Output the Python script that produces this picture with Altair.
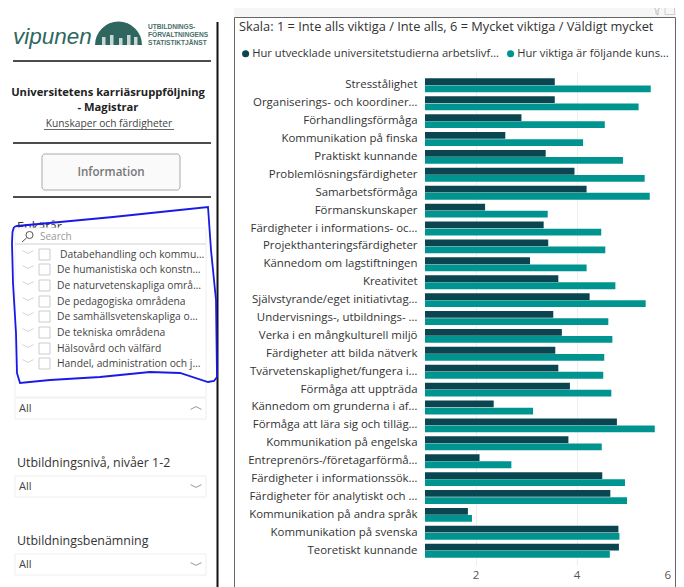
import altair as alt
import pandas as pd

categories = ["Stresstålighet", "Organiserings- och koordiner…", "Förhandlingsförmåga",
    "Kommunikation på finska", "Praktiskt kunnande", "Problemlösningsfärdigheter",
    "Samarbetsförmåga", "Förmanskunskaper", "Färdigheter i informations- oc…",
    "Projekthanteringsfärdigheter", "Kännedom om lagstiftningen", "Kreativitet",
    "Självstyrande/eget initiativtag…", "Undervisnings-, utbildnings- …",
    "Verka i en mångkulturell miljö", "Färdigheter att bilda nätverk",
    "Tvärvetenskaplighet/fungera i…", "Förmåga att uppträda", "Kännedom om grunderna i af…",
    "Förmåga att lära sig och tilläg…", "Kommunikation på engelska",
    "Entreprenörs-/företagarförmå…", "Färdigheter i informationssök…",
    "Färdigheter för analytiskt och …", "Kommunikation på andra språk",
    "Kommunikation på svenska", "Teoretiskt kunnande"]
developed = [3.57, 3.57, 2.91, 2.59, 3.39, 3.96, 4.20, 2.19, 3.35, 3.44, 3.08, 3.64, 4.26, 3.54,
             3.71, 3.58, 3.64, 3.87, 2.36, 4.80, 3.84, 2.08, 4.51, 4.67, 1.85, 4.83, 4.84]
important = [5.47, 5.23, 4.56, 4.13, 4.92, 5.35, 5.45, 3.43, 4.49, 4.57, 4.20, 4.77, 5.37, 4.63,
             4.71, 4.55, 4.53, 4.69, 3.14, 5.55, 4.50, 2.71, 4.96, 5.00, 1.93, 4.85, 4.66]
series = ["Hur utvecklade universitetstudierna arbetslivf…", "Hur viktiga är följande kuns…"]
colors = ["#0B4650", "#009490"]
x_ticks = [2, 4, 6]

slicer_items = ["Databehandling och kommu…", "De humanistiska och konstn…", "De naturvetenskapliga områ…",
                "De pedagogiska områdena", "De samhällsvetenskapliga o…", "De tekniska områdena",
                "Hälsovård och välfärd", "Handel, administration och j…"]
slicer_rows = [255, 270, 286, 302, 317, 333, 349, 364]
slicer_text_x = [60, 57, 57, 57, 57, 57, 57, 57]
scribble_x = [14, 17, 60, 113, 170, 208, 211, 216, 217, 214, 208, 180, 150, 100, 50, 20, 17, 16, 13, 12, 12.5, 14]
scribble_y = [227, 226, 222, 217, 211, 207, 250, 300, 377, 381, 382, 373, 372, 377, 380, 383, 373, 333, 283, 243, 232, 227]

FONT = "Open Sans"
LEFT, TOP = 417, 63
W, H = 251, 494
X_SPAN = 252.5


def X(p):
    return p - 8 - LEFT


def Y(p):
    return p - 8 - TOP


one = pd.DataFrame({"a": [0]})


def txt(x, y, s, size=11.5, color="#444444", align="left", font=FONT, **kw):
    return alt.Chart(one).mark_text(fontSize=size, color=color, align=align, baseline="middle",
                                    font=font, **kw).encode(
        x=alt.value(X(x)), y=alt.value(Y(y)), text=alt.value(s))


def rect(x0, y0, x1, y1, fill="#ffffff", stroke=None, **kw):
    opts = dict(fill=fill, **kw)
    if stroke:
        opts["stroke"] = stroke
    return alt.Chart(one).mark_rect(**opts).encode(
        x=alt.value(X(x0)), x2=alt.value(X(x1)), y=alt.value(Y(y0)), y2=alt.value(Y(y1)))


def rule(x0, y0, x1, y1, color="#111111", width=1.5):
    return alt.Chart(one).mark_rule(color=color, strokeWidth=width).encode(
        x=alt.value(X(x0)), x2=alt.value(X(x1)), y=alt.value(Y(y0)), y2=alt.value(Y(y1)))


def glyph(x, y, shape, size, color="#cccccc", width=1):
    return alt.Chart(one).mark_point(shape=shape, size=size, stroke=color, strokeWidth=width,
                                     filled=False, opacity=1).encode(
        x=alt.value(X(x)), y=alt.value(Y(y)))


CHEV_DOWN = "M-1,-0.25L0,0.25L1,-0.25"
CHEV_UP = "M-1,0.25L0,-0.25L1,0.25"

layers = []
# report frame
layers += [rect(234, 5, 676, 17, fill="#f6f6f6"),
           rule(234.5, 17.5, 675.5, 17.5, "#666666", 1),
           rule(234.5, 17.5, 234.5, 590, "#666666", 1),
           rule(675.5, 17.5, 675.5, 590, "#666666", 1),
           glyph(657, 10, "M-1,-1L1,-1L0.2,0L0.2,1L-0.2,0.7L-0.2,0Z", 100, "#bbbbbb"),
           rect(665, 6, 674.5, 14.5, fill="#f6f6f6", stroke="#cfcfcf", strokeWidth=1)]

# sidebar
logo = "#2F6660"
layers += [txt(13, 37, "vipunen", 22.5, logo, font="Liberation Sans", fontStyle="italic"),
           alt.Chart(one).mark_arc(radius=23.5, theta=4.712, theta2=7.854, color=logo).encode(
               x=alt.value(X(118.5)), y=alt.value(Y(45)))]
for bx, by in [(102, 37), (110, 35), (119, 38), (127, 35), (134, 37)]:
    layers.append(rect(bx, by, bx + 3.5, 45, fill="#c7d8d5"))
for ly, line in zip([27, 35, 43], ["UTBILDNINGS-", "FÖRVALTNINGENS", "STATISTIKTJÄNST"]):
    layers.append(txt(148, ly, line, 6.6, "#4A6E6A", font="Liberation Sans", fontWeight="bold"))
layers += [rule(13, 61, 211, 61), rule(13, 143, 211, 143), rule(13, 197, 211, 197),
           rule(217.5, 22, 217.5, 600, width=2),
           txt(108, 93, "Universitetens karriäsruppföljning", 11.2, "#222222", "center", fontWeight="bold"),
           txt(108, 108, "- Magistrar", 11.2, "#222222", "center", fontWeight="bold"),
           txt(109, 124, "Kunskaper och färdigheter", 10.2, "#444444", "center"),
           rule(44, 129.5, 174, 129.5, "#666666", 1),
           rect(42, 154, 180, 190, fill="#fafafa", stroke="#aaaaaa", cornerRadius=3, strokeWidth=1),
           txt(111, 173, "Information", 11.6, "#777777", "center", fontWeight=600),
           txt(17, 227, "Enkätår", 12.6, "#333333"),
           rect(15, 228, 206, 397, fill="#ffffff", stroke="#f0f0f0", strokeWidth=1),
           rule(15, 244, 206, 244, "#e8e8e8", 2),
           glyph(29.5, 235, "circle", 50, "#555555"),
           rule(26.5, 238, 22, 242, "#555555", 1),
           txt(40, 237, "Search", 10, "#999999")]
for name, ry, tx in zip(slicer_items, slicer_rows, slicer_text_x):
    layers += [glyph(28, ry - 3, CHEV_DOWN, 121, "#d4d4d4"),
               rect(39, ry - 6, 50, ry + 5, fill="#ffffff", stroke="#cccccc", strokeWidth=1),
               txt(tx, ry, name, 10.3)]
for box_y, chev, label, label_y in [(398, CHEV_UP, None, None),
                                    (476, CHEV_DOWN, "Utbildningsnivå, nivåer 1-2", 463),
                                    (554, CHEV_DOWN, "Utbildningsbenämning", 541)]:
    layers += [rect(15, box_y, 206, box_y + 21, fill="#ffffff", stroke="#eeeeee", strokeWidth=1),
               txt(19, box_y + 11, "All", 11),
               glyph(196, box_y + 10, chev, 121, "#999999")]
    if label:
        layers.append(txt(17, label_y, label, 12.4, "#333333"))

# main title
layers.append(txt(239, 27, "Skala: 1 = Inte alls viktiga / Inte alls, 6 = Mycket viktiga / Väldigt mycket", 12.8, "#333333"))

# bars
df = pd.DataFrame({
    "cat": categories * 2,
    "value": developed + important,
    "series": [series[0]] * len(categories) + [series[1]] * len(categories),
})
bars = alt.Chart(df).mark_bar(size=6.8).encode(
    x=alt.X("value:Q", scale=alt.Scale(domain=[1, 6], range=[0, X_SPAN], nice=False),
            axis=alt.Axis(values=x_ticks, title=None, format="d", ticks=False, domain=False, grid=True,
                          gridColor="#eeeeee", labelColor="#555555", labelFontSize=11.5, labelFont=FONT,
                          labelPadding=4, labelOffset=alt.expr("datum.value == 6 ? -7 : 0"))),
    x2=alt.datum(1),
    y=alt.Y("cat:N", sort=categories, scale=alt.Scale(paddingInner=0.22, paddingOuter=0.41),
            axis=alt.Axis(title=None, ticks=False, domain=False, labelColor="#333333", labelFontSize=11.45,
                          labelFont=FONT, labelPadding=8, labelLimit=220)),
    yOffset=alt.YOffset("series:N", sort=series, scale=alt.Scale(domain=series, paddingInner=0.04)),
    color=alt.Color("series:N", scale=alt.Scale(domain=series, range=colors),
                    legend=alt.Legend(orient="none", legendX=X(240), legendY=Y(48), columns=2, title=None,
                                      symbolType="circle", symbolSize=50, labelFont=FONT, labelFontSize=11.2,
                                      labelColor="#333333", labelLimit=300, columnPadding=6, labelOffset=1,
                                      direction="horizontal")),
)
layers.append(bars)

# hand-drawn annotation
scribble = pd.DataFrame({"px": [X(v) for v in scribble_x], "py": [Y(v) for v in scribble_y],
                         "o": list(range(len(scribble_x)))})
layers.append(alt.Chart(scribble).mark_line(color="#1A1AE6", strokeWidth=1.8, interpolate="linear").encode(
    x=alt.X("px:Q", scale=None, axis=None),
    y=alt.Y("py:Q", scale=None, axis=None),
    order="o:Q"))

chart = alt.layer(*layers).resolve_scale(x="independent", y="independent", color="independent").properties(
    width=W, height=H,
    padding={"left": LEFT, "top": TOP, "right": 0, "bottom": 579 - TOP - H},
    autosize=alt.AutoSizeParams(type="none"),
    background="#ffffff",
).configure_view(stroke=None)

chart.save("out.html", embed_options={"renderer": "svg", "actions": False})
